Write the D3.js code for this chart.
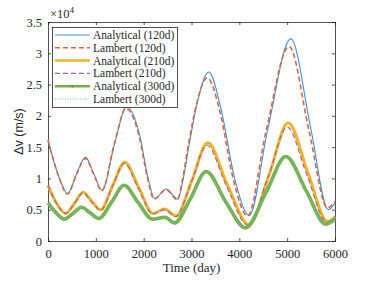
<!DOCTYPE html>
<html>
<head>
<meta charset="utf-8">
<script src="https://cdn.jsdelivr.net/npm/d3@7"></script>
<style>
	body { margin: 0; background: #fff; }
	text { font-family: "Times New Roman", "Liberation Serif", serif; fill: #262626; }
	text.sans { font-family: "Liberation Sans", Arial, sans-serif; }
</style>
</head>
<body>
<div id="chart"></div>
<script>
// values in units of 1e4 m/s as [day, value]
const analytical120 = [[0,1.61],[215,1.05],[410,0.76],[600,1.08],[785,1.34],[960,1.07],[1130,0.81],[1390,1.55],[1645,2.15],[1920,1.68],[2080,1.05],[2229,0.68],[2472,0.83],[2715,0.67],[2820,0.97],[2958,1.57],[3132,2.25],[3360,2.70],[3620,2.1],[3896,1.02],[4208,0.41],[4590,1.77],[5076,3.23],[5493,1.8],[5860,0.50],[6000,0.61]]
const lambert120 = [[0,1.61],[215,1.05],[405,0.75],[600,1.07],[780,1.32],[960,1.06],[1125,0.80],[1380,1.53],[1630,2.12],[1910,1.66],[2070,1.04],[2220,0.67],[2465,0.82],[2705,0.66],[2810,0.98],[2945,1.58],[3115,2.22],[3330,2.61],[3600,2.05],[3870,1.0],[4170,0.40],[4560,1.76],[5040,3.11],[5460,1.75],[5840,0.53],[6000,0.63]]
const analytical210 = [[0,0.89],[180,0.60],[368,0.44],[550,0.60],[736,0.78],[920,0.63],[1104,0.50],[1350,0.88],[1604,1.26],[1900,0.85],[2194,0.44],[2437,0.51],[2680,0.40],[3000,0.95],[3340,1.57],[3750,0.90],[4200,0.26],[4620,1.05],[5021,1.89],[5430,1.10],[5840,0.31],[6000,0.39]]
const lambert210 = [[0,0.89],[180,0.60],[365,0.44],[550,0.59],[730,0.77],[915,0.62],[1100,0.49],[1345,0.87],[1595,1.24],[1890,0.84],[2185,0.43],[2430,0.50],[2670,0.39],[2990,0.93],[3320,1.53],[3730,0.88],[4180,0.25],[4600,1.02],[5000,1.82],[5410,1.06],[5830,0.30],[6000,0.37]]
const analytical300 = [[0,0.61],[170,0.45],[340,0.35],[520,0.44],[700,0.54],[880,0.45],[1062,0.36],[1330,0.62],[1590,0.89],[1880,0.62],[2180,0.35],[2440,0.38],[2646,0.29],[2980,0.68],[3306,1.11],[3720,0.62],[4130,0.21],[4560,0.78],[4972,1.35],[5400,0.80],[5806,0.27],[6000,0.35]]
const lambert300 = [[0,0.61],[170,0.45],[340,0.35],[520,0.44],[700,0.54],[880,0.45],[1062,0.36],[1330,0.62],[1590,0.89],[1880,0.62],[2180,0.35],[2440,0.38],[2646,0.29],[2980,0.68],[3306,1.10],[3720,0.62],[4130,0.21],[4560,0.78],[4972,1.34],[5400,0.80],[5806,0.27],[6000,0.35]]

const xTicks = [0, 1000, 2000, 3000, 4000, 5000, 6000]
const yTicks = [0, 0.5, 1, 1.5, 2, 2.5, 3, 3.5]

const series = [
	{name: "Analytical (120d)", data: analytical120, color: "#3b93d4", width: 1.1, dash: null},
	{name: "Lambert (120d)", data: lambert120, color: "#e0633a", width: 1.6, dash: "5,3"},
	{name: "Analytical (210d)", data: analytical210, color: "#f0b323", width: 3, dash: null},
	{name: "Lambert (210d)", data: lambert210, color: "#a35ab8", width: 1.1, dash: "5,3"},
	{name: "Analytical (300d)", data: analytical300, color: "#76b043", width: 3.6, dash: null, marker: true},
	{name: "Lambert (300d)", data: lambert300, color: "#5cc6ef", width: 1.1, dash: "1,1.5"}
]

const params = {width: 374, height: 283, left: 48, right: 335, top: 22, bottom: 241}

const svg = d3.select("#chart").append("svg")
	.attr("width", params.width)
	.attr("height", params.height)

const xScale = d3.scaleLinear().domain([0, 6000]).range([params.left, params.right])
const yScale = d3.scaleLinear().domain([0, 3.5]).range([params.bottom, params.top])

const fmtY = d => d === 0 ? "0" : String(d)

// axes: left/bottom with labels, top/right ticks only, ticks point inward
const axisColor = "#262626"
const drawAxis = (axis, transform) => {
	const g = svg.append("g").attr("transform", transform).call(axis)
	g.attr("font-family", null)
	g.select(".domain").attr("stroke", axisColor).attr("stroke-width", 0.8)
	g.selectAll(".tick line").attr("stroke", axisColor).attr("stroke-width", 0.8)
	g.selectAll(".tick text").attr("font-size", 12.5).attr("fill", axisColor)
	return g
}

drawAxis(d3.axisBottom(xScale).tickValues(xTicks).tickSize(-3).tickPadding(8).tickFormat(d3.format("d")),
	`translate(0,${params.bottom})`)
drawAxis(d3.axisTop(xScale).tickValues(xTicks).tickSize(-3).tickFormat(""),
	`translate(0,${params.top})`)
drawAxis(d3.axisLeft(yScale).tickValues(yTicks).tickSize(-3).tickPadding(6).tickFormat(fmtY),
	`translate(${params.left},0)`)
drawAxis(d3.axisRight(yScale).tickValues(yTicks).tickSize(-3).tickFormat(""),
	`translate(${params.right},0)`)

// lines
const lineGen = d3.line()
	.x(d => xScale(d[0]))
	.y(d => yScale(d[1]))
	.curve(d3.curveMonotoneX)

const plot = svg.append("g")
series.forEach(s => {
	plot.append("path")
		.attr("fill", "none")
		.attr("stroke", s.color)
		.attr("stroke-width", s.width)
		.attr("stroke-dasharray", s.dash)
		.attr("stroke-linejoin", "round")
		.attr("d", lineGen(s.data))
})

// multiplier
const mult = svg.append("text")
	.attr("x", 50)
	.attr("y", 18)
	.attr("font-size", 12.5)
mult.append("tspan").text("\u00d710")
mult.append("tspan").attr("dy", -5).attr("font-size", 9).text("4")

// axis labels
svg.append("text")
	.attr("x", (params.left + params.right) / 2)
	.attr("y", 272)
	.attr("text-anchor", "middle")
	.attr("font-size", 13)
	.text("Time (day)")

svg.append("text")
	.attr("class", "sans")
	.attr("transform", `translate(23,${(params.top + params.bottom) / 2}) rotate(-90)`)
	.attr("text-anchor", "middle")
	.attr("font-size", 12.5)
	.text("\u0394v (m/s)")

// legend
const legend = svg.append("g")
legend.append("rect")
	.attr("x", 52.5).attr("y", 27.5)
	.attr("width", 125).attr("height", 80)
	.attr("fill", "#fff")
	.attr("stroke", axisColor)
	.attr("stroke-width", 0.8)

series.forEach((s, i) => {
	const y = 35 + i * 12.8
	legend.append("line")
		.attr("x1", 55).attr("x2", 90)
		.attr("y1", y).attr("y2", y)
		.attr("stroke", s.color)
		.attr("stroke-width", Math.min(s.width, 2.5))
		.attr("stroke-dasharray", s.dash)
	if (s.marker) {
		legend.append("circle")
			.attr("cx", 72.5).attr("cy", y).attr("r", 1.2)
			.attr("fill", "#5d9a2e")
	}
	legend.append("text")
		.attr("x", 93).attr("y", y + 4)
		.attr("font-size", 11.5)
		.text(s.name)
})
</script>
</body>
</html>
